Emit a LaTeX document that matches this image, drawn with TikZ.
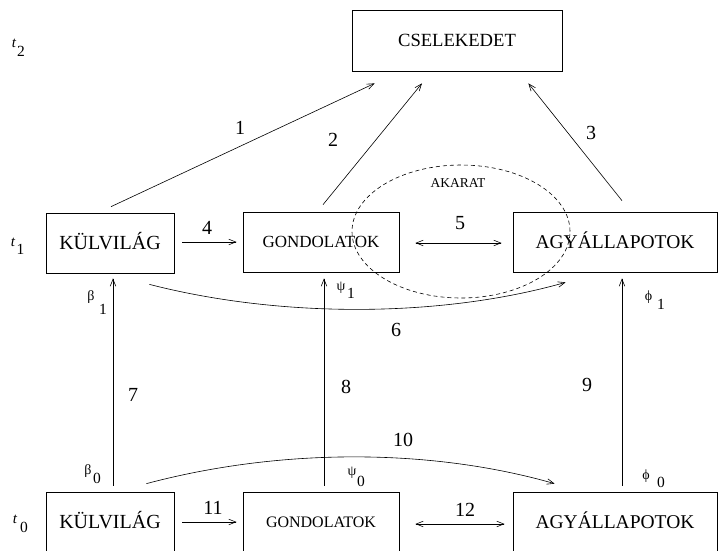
\documentclass[tikz,border=0pt]{standalone}
\usepackage{fontspec}
\setmainfont{Liberation Serif}
\usetikzlibrary{arrows.meta,calc,shapes.geometric}
\begin{document}
\begin{tikzpicture}[x=1pt,y=-1pt,
  box/.style={draw, line width=0.7pt, rectangle, inner sep=0pt, minimum height=60pt,
    font=\fontsize{19.5}{19.5}\selectfont, text height=12.8pt, text depth=0pt},
  sbox/.style={box, font=\fontsize{17}{17}\selectfont, text height=11.2pt},
  arr/.style={line width=0.6pt, -{Straight Barb[length=7pt,width=5.5pt]}},
  darr/.style={line width=0.6pt, {Straight Barb[length=7pt,width=5.5pt]}-{Straight Barb[length=7pt,width=5.5pt]}},
  num/.style={font=\fontsize{20}{20}\selectfont, inner sep=0pt},
  tlab/.style={font=\fontsize{15}{15}\selectfont\itshape, inner sep=0pt},
  sub/.style={font=\fontsize{15.5}{15.5}\selectfont, inner sep=0pt},
  grk/.style={font=\fontsize{14}{14}\selectfont, inner sep=0pt},
]
\useasboundingbox (0,0) rectangle (718,550);

% boxes
\node[box, minimum width=210pt, minimum height=61pt, font=\fontsize{18.6}{18.6}\selectfont, text height=12.3pt] (cs) at (457,40.5) {CSELEKEDET};
\node[box, minimum width=128pt, font=\fontsize{20}{20}\selectfont] (kv1) at (110,243) {KÜLVILÁG};
\node[sbox, minimum width=156pt] (g1) at (321,242) {GONDOLATOK};
\node[box, minimum width=204pt] (a1) at (615,242) {AGYÁLLAPOTOK};
\node[box, minimum width=128pt, font=\fontsize{20}{20}\selectfont] (kv0) at (110,522) {KÜLVILÁG};
\node[sbox, minimum width=156pt, font=\fontsize{16}{16}\selectfont, text height=10.5pt] (g0) at (321,522) {GONDOLATOK};
\node[box, minimum width=204pt] (a0) at (615,522) {AGYÁLLAPOTOK};

% will ellipse
\node[ellipse, draw, dashed, dash pattern=on 4pt off 3pt, line width=0.6pt, inner sep=0pt,
  minimum width=218pt, minimum height=133pt] (will) at (461,231.5) {};
\node[font=\fontsize{13.5}{13.5}\selectfont, inner sep=0pt] (akarat) at (458,183) {AKARAT};

% time labels
\node[tlab] (t2) at (14,43) {t};
\node[sub] (t2s) at (21,51) {2};
\node[tlab] (t1) at (13,242) {t};
\node[sub] (t1s) at (20.5,249.5) {1};
\node[tlab] (t0) at (15,519) {t};
\node[sub] (t0s) at (24,527) {0};

% arrows to action
\draw[arr] ($(kv1.north)+(1,-6)$) -- ($(cs.south west)+(23,12)$);
\draw[arr] ($(g1.north)+(2,-7)$) -- ($(cs.south)+(-35,12)$);
\draw[arr] ($(a1.north)+(7,-11)$) -- ($(cs.south east)+(-34,12)$);

% horizontal arrows
\draw[arr] ($(kv1.east)+(8,-1)$) -- ($(g1.west)+(-6,0)$);
\draw[darr] ($(g1.east)+(16,1)$) -- ($(a1.west)+(-11,1)$);
\draw[arr] ($(kv0.east)+(8,0)$) -- ($(g0.west)+(-6,0)$);
\draw[darr] ($(g0.east)+(16,2)$) -- ($(a0.west)+(-8,2)$);

% vertical arrows
\draw[arr] ($(kv0.north)+(3,-6)$) -- ($(kv1.south)+(3,5)$);
\draw[arr] ($(g0.north)+(3,-6)$) -- ($(g1.south)+(3,6)$);
\draw[arr] ($(a0.north)+(7,-6)$) -- ($(a1.south)+(7,6)$);

% curved arrows
\draw[arr] ($(kv1.south east)+(-25,11)$) .. controls (280,318) and (440,318) .. ($(a1.south west)+(53,10)$);
\draw[arr] ($(kv0.north east)+(-28,-8)$) .. controls (280,448) and (430,448) .. ($(a0.north west)+(42,-8)$);

% number labels
\node[num] (n1) at (240,128) {1};
\node[num] (n2) at (333,140) {2};
\node[num] (n3) at (591,133) {3};
\node[num] (n4) at (207,228) {4};
\node[num] (n5) at (460,223) {5};
\node[num] (n6) at (396,330) {6};
\node[num] (n7) at (133,395) {7};
\node[num] (n8) at (346,387) {8};
\node[num] (n9) at (587,385) {9};
\node[num] (n10) at (403,440) {10};
\node[num] (n11) at (213,508) {11};
\node[num] (n12) at (465,510) {12};

% greek labels
\node[grk] (b1) at (91,297.5) {β};
\node[sub] (b1s) at (103,309.5) {1};
\node[grk] (p1) at (341,288) {ψ};
\node[sub] (p1s) at (351,293) {1};
\node[grk] (f1) at (648.5,297) {ϕ};
\node[sub] (f1s) at (661,304) {1};
\node[grk] (b0) at (88,471) {β};
\node[sub] (b0s) at (97,478) {0};
\node[grk] (p0) at (352,473) {ψ};
\node[sub] (p0s) at (361,481) {0};
\node[grk] (f0) at (646,476) {ϕ};
\node[sub] (f0s) at (661,482) {0};
\end{tikzpicture}
\end{document}
